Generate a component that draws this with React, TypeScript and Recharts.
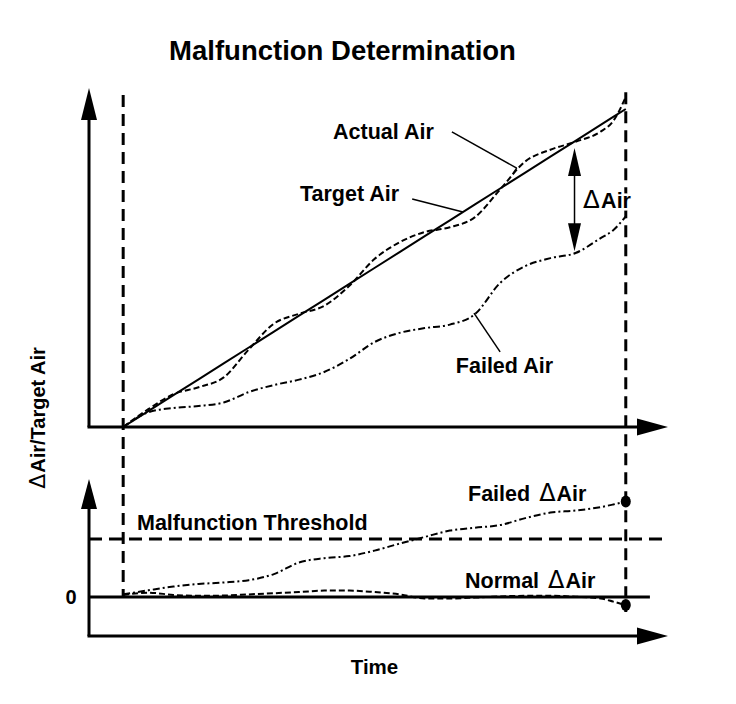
import React from 'react';
import { LineChart, Line, XAxis, YAxis, ReferenceLine, ReferenceDot } from 'recharts';

// time samples (0 = start marker, 10 = end marker)
const TIME = [0, 0.5, 1, 1.5, 2, 2.5, 3, 3.5, 4, 4.5, 5, 5.5, 6, 6.5, 7, 7.5, 8, 8.5, 9, 9.5, 9.75, 10];
// upper panel
const TARGET_AIR = [0, 0.5, 1, 1.5, 2, 2.5, 3, 3.5, 4, 4.5, 5, 5.5, 6, 6.5, 7, 7.5, 8, 8.5, 9, 9.5, 9.75, 10];
const ACTUAL_AIR = [0, 0.56, 1.03, 1.25, 1.56, 2.44, 3.25, 3.56, 3.81, 4.44, 5.28, 5.81, 6.13, 6.28, 6.6, 7.47, 8.35, 8.72, 8.97, 9.29, 9.62, 10.38];
const FAILED_AIR = [0, 0.46, 0.6, 0.66, 0.77, 1.1, 1.32, 1.49, 1.73, 2.14, 2.67, 2.96, 3.11, 3.22, 3.55, 4.53, 5.06, 5.31, 5.47, 5.94, 6.19, 6.62];
// lower panel
const FAILED_DELTA = [0.09, 0.23, 0.36, 0.45, 0.5, 0.58, 0.79, 1.19, 1.34, 1.41, 1.6, 1.84, 2.07, 2.29, 2.39, 2.48, 2.72, 2.91, 2.98, 3.1, 3.19, 3.29];
const NORMAL_DELTA = [0.07, 0.15, 0.07, 0.04, 0.05, 0.09, 0.13, 0.17, 0.22, 0.22, 0.17, 0.09, -0.05, -0.05, -0.02, 0.02, 0.04, 0.04, 0.01, -0.05, -0.16, -0.28];
const THRESHOLD = 2;
const ZERO_TICK = '0';

const rows = TIME.map((t, i) => ({
  t,
  target: TARGET_AIR[i],
  actual: ACTUAL_AIR[i],
  failed: FAILED_AIR[i],
  failedDelta: FAILED_DELTA[i],
  normalDelta: NORMAL_DELTA[i],
}));

const X_DOMAIN: [number, number] = [-0.68, 10.84];
const TOP_DOMAIN: [number, number] = [-6.572, 10.66];
const BOT_DOMAIN: [number, number] = [-1.345, 17.552];
const X0 = X_DOMAIN[0];
const X1 = X_DOMAIN[1];
const START = TIME[0];
const END = TIME[TIME.length - 1];
const LAST = TIME.length - 1;

const FONT = '"Liberation Sans", Arial, Helvetica, sans-serif';
const DELTA_FONT = '"DejaVu Sans", sans-serif';

const upArrow = (len: number, hw: number) => (p: any) => (
  <polygon points={`${p.cx},${p.cy} ${p.cx - hw},${p.cy + len} ${p.cx + hw},${p.cy + len}`} fill="#000" />
);
const downArrow = (len: number, hw: number) => (p: any) => (
  <polygon points={`${p.cx},${p.cy} ${p.cx - hw},${p.cy - len} ${p.cx + hw},${p.cy - len}`} fill="#000" />
);
const rightArrow = (len: number, hw: number) => (p: any) => (
  <polygon points={`${p.cx},${p.cy} ${p.cx - len},${p.cy - hw} ${p.cx - len},${p.cy + hw}`} fill="#000" />
);
const bigDot = (p: any) => <ellipse cx={p.cx} cy={p.cy} rx={5} ry={6} fill="#000" />;

const txt = { fontFamily: FONT, fontWeight: 700, fill: '#000' } as const;
const Delta = ({ size, dx = 0 }: { size: number; dx?: number }) => (
  <tspan dx={dx} fontFamily={DELTA_FONT} fontWeight={400} fontSize={size}>Δ</tspan>
);

export default function App() {
  return (
    <div style={{ position: 'absolute', left: 0, top: 0, width: 736, height: 704, background: '#fff' }}>
      <LineChart width={736} height={704} data={rows} margin={{ top: 88, right: 68, bottom: 68, left: 89 }}>
        <XAxis dataKey="t" type="number" domain={X_DOMAIN} hide allowDataOverflow />
        <YAxis yAxisId="top" type="number" domain={TOP_DOMAIN} hide allowDataOverflow />
        <YAxis yAxisId="bot" type="number" domain={BOT_DOMAIN} hide allowDataOverflow />

        {/* vertical start / end markers spanning both panels */}
        <ReferenceLine yAxisId="top" ifOverflow="visible" stroke="#000" strokeWidth={3} strokeDasharray="12 7"
          segment={[{ x: START, y: 10.44 }, { x: START, y: -5.38 }]} />
        <ReferenceLine yAxisId="top" ifOverflow="visible" stroke="#000" strokeWidth={3} strokeDasharray="12 7"
          segment={[{ x: END, y: 10.53 }, { x: END, y: -5.82 }]} />

        {/* upper axes */}
        <ReferenceLine yAxisId="top" ifOverflow="visible" stroke="#000" strokeWidth={3}
          segment={[{ x: X0, y: 0 }, { x: X0, y: 9.7 }]} />
        <ReferenceLine yAxisId="top" ifOverflow="visible" stroke="#000" strokeWidth={3}
          segment={[{ x: X0 - 0.03, y: 0 }, { x: 10.3, y: 0 }]} />
        <ReferenceDot yAxisId="top" ifOverflow="visible" x={X0} y={TOP_DOMAIN[1]} r={0} shape={upArrow(32, 8)} />
        <ReferenceDot yAxisId="top" ifOverflow="visible" x={X1} y={0} r={0} shape={rightArrow(31, 8.5)} />

        {/* lower axes */}
        <ReferenceLine yAxisId="bot" ifOverflow="visible" stroke="#000" strokeWidth={3}
          segment={[{ x: X0, y: BOT_DOMAIN[0] }, { x: X0, y: 3.1 }]} />
        <ReferenceLine yAxisId="bot" ifOverflow="visible" stroke="#000" strokeWidth={3}
          segment={[{ x: X0 - 0.03, y: BOT_DOMAIN[0] }, { x: 10.3, y: BOT_DOMAIN[0] }]} />
        <ReferenceDot yAxisId="bot" ifOverflow="visible" x={X0} y={4.07} r={0} shape={upArrow(30, 8)} />
        <ReferenceDot yAxisId="bot" ifOverflow="visible" x={X1} y={BOT_DOMAIN[0]} r={0} shape={rightArrow(31, 8.5)} />

        {/* zero line and threshold */}
        <ReferenceLine yAxisId="bot" ifOverflow="visible" stroke="#000" strokeWidth={3}
          segment={[{ x: X0, y: 0 }, { x: 10.48, y: 0 }]} />
        <ReferenceLine yAxisId="bot" ifOverflow="visible" stroke="#000" strokeWidth={3} strokeDasharray="13 7"
          segment={[{ x: X0, y: THRESHOLD }, { x: X1, y: THRESHOLD }]} />

        {/* upper series */}
        <Line yAxisId="top" dataKey="target" type="linear" stroke="#000" strokeWidth={2} dot={false} activeDot={false} isAnimationActive={false} />
        <Line yAxisId="top" dataKey="actual" type="monotone" stroke="#000" strokeWidth={2} strokeDasharray="6 3" dot={false} activeDot={false} isAnimationActive={false} />
        <Line yAxisId="top" dataKey="failed" type="monotone" stroke="#000" strokeWidth={2} strokeDasharray="7 3 2 3" dot={false} activeDot={false} isAnimationActive={false} />

        {/* lower series */}
        <Line yAxisId="bot" dataKey="failedDelta" type="monotone" stroke="#000" strokeWidth={2} strokeDasharray="7 3 2 3" dot={false} activeDot={false} isAnimationActive={false} />
        <Line yAxisId="bot" dataKey="normalDelta" type="monotone" stroke="#000" strokeWidth={2} strokeDasharray="6 3" dot={false} activeDot={false} isAnimationActive={false} />
        <ReferenceDot yAxisId="bot" ifOverflow="visible" x={END} y={FAILED_DELTA[LAST]} r={5} shape={bigDot} />
        <ReferenceDot yAxisId="bot" ifOverflow="visible" x={END} y={NORMAL_DELTA[LAST]} r={5} shape={bigDot} />

        {/* delta-air double arrow */}
        <ReferenceLine yAxisId="top" ifOverflow="visible" stroke="#000" strokeWidth={1.5}
          segment={[{ x: 8.98, y: 8.4 }, { x: 8.98, y: 5.9 }]} />
        <ReferenceDot yAxisId="top" ifOverflow="visible" x={8.98} y={8.77} r={0} shape={upArrow(28, 6.5)} />
        <ReferenceDot yAxisId="top" ifOverflow="visible" x={8.98} y={5.53} r={0} shape={downArrow(28, 6.5)} />

        {/* leader lines */}
        <ReferenceLine yAxisId="top" ifOverflow="visible" stroke="#000" strokeWidth={1.5}
          segment={[{ x: 6.54, y: 9.28 }, { x: 7.83, y: 8.14 }]} />
        <ReferenceLine yAxisId="top" ifOverflow="visible" stroke="#000" strokeWidth={1.5}
          segment={[{ x: 7.83, y: 8.14 }, { x: 7.75, y: 7.96 }]} />
        <ReferenceLine yAxisId="top" ifOverflow="visible" stroke="#000" strokeWidth={1.5}
          segment={[{ x: 5.75, y: 7.17 }, { x: 6.76, y: 6.76 }]} />
        <ReferenceLine yAxisId="top" ifOverflow="visible" stroke="#000" strokeWidth={1.5}
          segment={[{ x: 6.98, y: 3.58 }, { x: 7.5, y: 2.36 }]} />
      </LineChart>

      <svg width={736} height={704} style={{ position: 'absolute', left: 0, top: 0, pointerEvents: 'none' }}>
        <text {...txt} x={342.5} y={60} fontSize={27.5} textAnchor="middle">Malfunction Determination</text>
        <text {...txt} x={333} y={139} fontSize={21.5}>Actual Air</text>
        <text {...txt} x={300} y={201} fontSize={21.5}>Target Air</text>
        <text {...txt} x={583} y={208} fontSize={21.5} stroke="#fff" strokeWidth={5} paintOrder="stroke" strokeLinejoin="round">
          <Delta size={25} /><tspan dx={1}>Air</tspan>
        </text>
        <text {...txt} x={553} y={373} fontSize={21.5} textAnchor="end">Failed Air</text>
        <text {...txt} x={137} y={530} fontSize={21.5}>Malfunction Threshold</text>
        <text {...txt} x={468} y={501} fontSize={21.5}>
          Failed<Delta size={24} dx={9} /><tspan dx={1}>Air</tspan>
        </text>
        <text {...txt} x={465} y={588} fontSize={21.5}>
          Normal<Delta size={24} dx={9} /><tspan dx={1}>Air</tspan>
        </text>
        <text {...txt} x={71} y={604} fontSize={20} textAnchor="middle">{ZERO_TICK}</text>
        <text {...txt} x={374.5} y={674} fontSize={20.5} textAnchor="middle">Time</text>
        <text {...txt} x={45} y={418} fontSize={20} textAnchor="middle" transform="rotate(-90 45 418)">
          <Delta size={22} /><tspan dx={1}>Air/Target Air</tspan>
        </text>
      </svg>
    </div>
  );
}
